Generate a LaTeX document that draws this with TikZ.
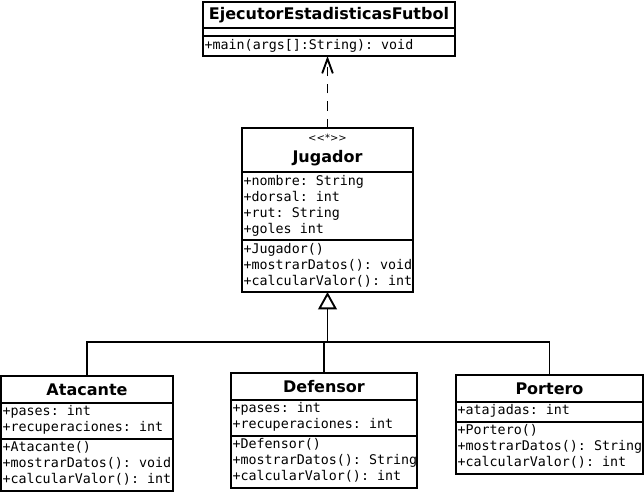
\documentclass[tikz,border=0pt]{standalone}
\usepackage{fontspec}
\usetikzlibrary{arrows.meta}

\newfontfamily\umlsans{DejaVu Sans}
\newfontfamily\umlmono{DejaVu Sans Mono}

\tikzset{
  classname/.style={draw, line width=1.4pt, anchor=north west, inner sep=0pt, outer sep=0pt,
    minimum height=20pt, font=\umlsans\bfseries\fontsize{12}{14}\selectfont},
  members/.style={draw, line width=1.4pt, anchor=north west, align=left,
    inner xsep=1.2pt, inner ysep=1.5pt, outer sep=0pt,
    font=\umlmono\fontsize{10}{12}\selectfont,
    execute at begin node={\spaceskip=6.02pt\relax\strut}, execute at end node=\strut},
  emptypart/.style={draw, line width=1.4pt, anchor=north west, inner sep=0pt, outer sep=0pt,
    minimum height=6pt},
}

\begin{document}
\begin{tikzpicture}[x=0.75pt,y=-0.75pt]

    \useasboundingbox (0,0) rectangle (644,493);

    % Main class
    \node[classname, minimum width=189pt, minimum height=19.5pt] (ejec) at (203,2) {EjecutorEstadisticasFutbol};
    \node[emptypart, minimum width=189pt] (ejec_v) at (ejec.south west) {};
    \node[members, text width=186.6pt] (ejec_m) at (ejec_v.south west) {+main(args[]:String):~void};

    % Jugador
    \node[classname, minimum width=128.25pt, minimum height=33pt, align=center] (jug) at (242,128)
        {{\umlsans\mdseries\fontsize{7.5}{9}\selectfont <<*>>}\\[2pt]Jugador};
    \node[members, text width=125.85pt] (jug_a) at (jug.south west)
        {+nombre:~String\\+dorsal:~int\\+rut:~String\\+goles~int};
    \node[members, text width=125.85pt] (jug_m) at (jug_a.south west)
        {+Jugador()\\+mostrarDatos():~void\\+calcularValor():~int};

    %-------------
    \draw[line width=1.4pt, dash pattern=on 7pt off 6pt, -{Straight Barb[length=11pt,width=8pt]}]
        (jug.north) -- (jug.north |- ejec_m.south);
    %-------------
    % Subclasses

    \node[classname, minimum width=129pt] (ata) at (1,376) {Atacante};
    \node[members, text width=126.6pt] (ata_a) at (ata.south west)
        {+pases:~int\\+recuperaciones:~int};
    \node[members, text width=126.6pt] (ata_m) at (ata_a.south west)
        {+Atacante()\\+mostrarDatos():~void\\+calcularValor():~int};

    \node[classname, minimum width=139.5pt] (def) at (231,373) {Defensor};
    \node[members, text width=137.1pt] (def_a) at (def.south west)
        {+pases:~int\\+recuperaciones:~int};
    \node[members, text width=137.1pt] (def_m) at (def_a.south west)
        {+Defensor()\\+mostrarDatos():~String\\+calcularValor():~int};

    \node[classname, minimum width=140.25pt] (por) at (456,375) {Portero};
    \node[members, text width=137.85pt] (por_a) at (por.south west)
        {+atajadas:~int};
    \node[members, text width=137.85pt] (por_m) at (por_a.south west)
        {+Portero()\\+mostrarDatos():~String\\+calcularValor():~int};

    % Inheritance
    \coordinate (bus) at (jug_m.south |- 0,342);
    \draw[line width=1.4pt] (ata.north) |- (bus) -| (por.north);
    \draw[line width=1.4pt] (def.north) -- (def.north |- bus);
    \draw[line width=1.4pt, -{Triangle[open,fill=white,length=13pt,width=14pt]}] (bus) -- (jug_m.south);

\end{tikzpicture}
\end{document}
